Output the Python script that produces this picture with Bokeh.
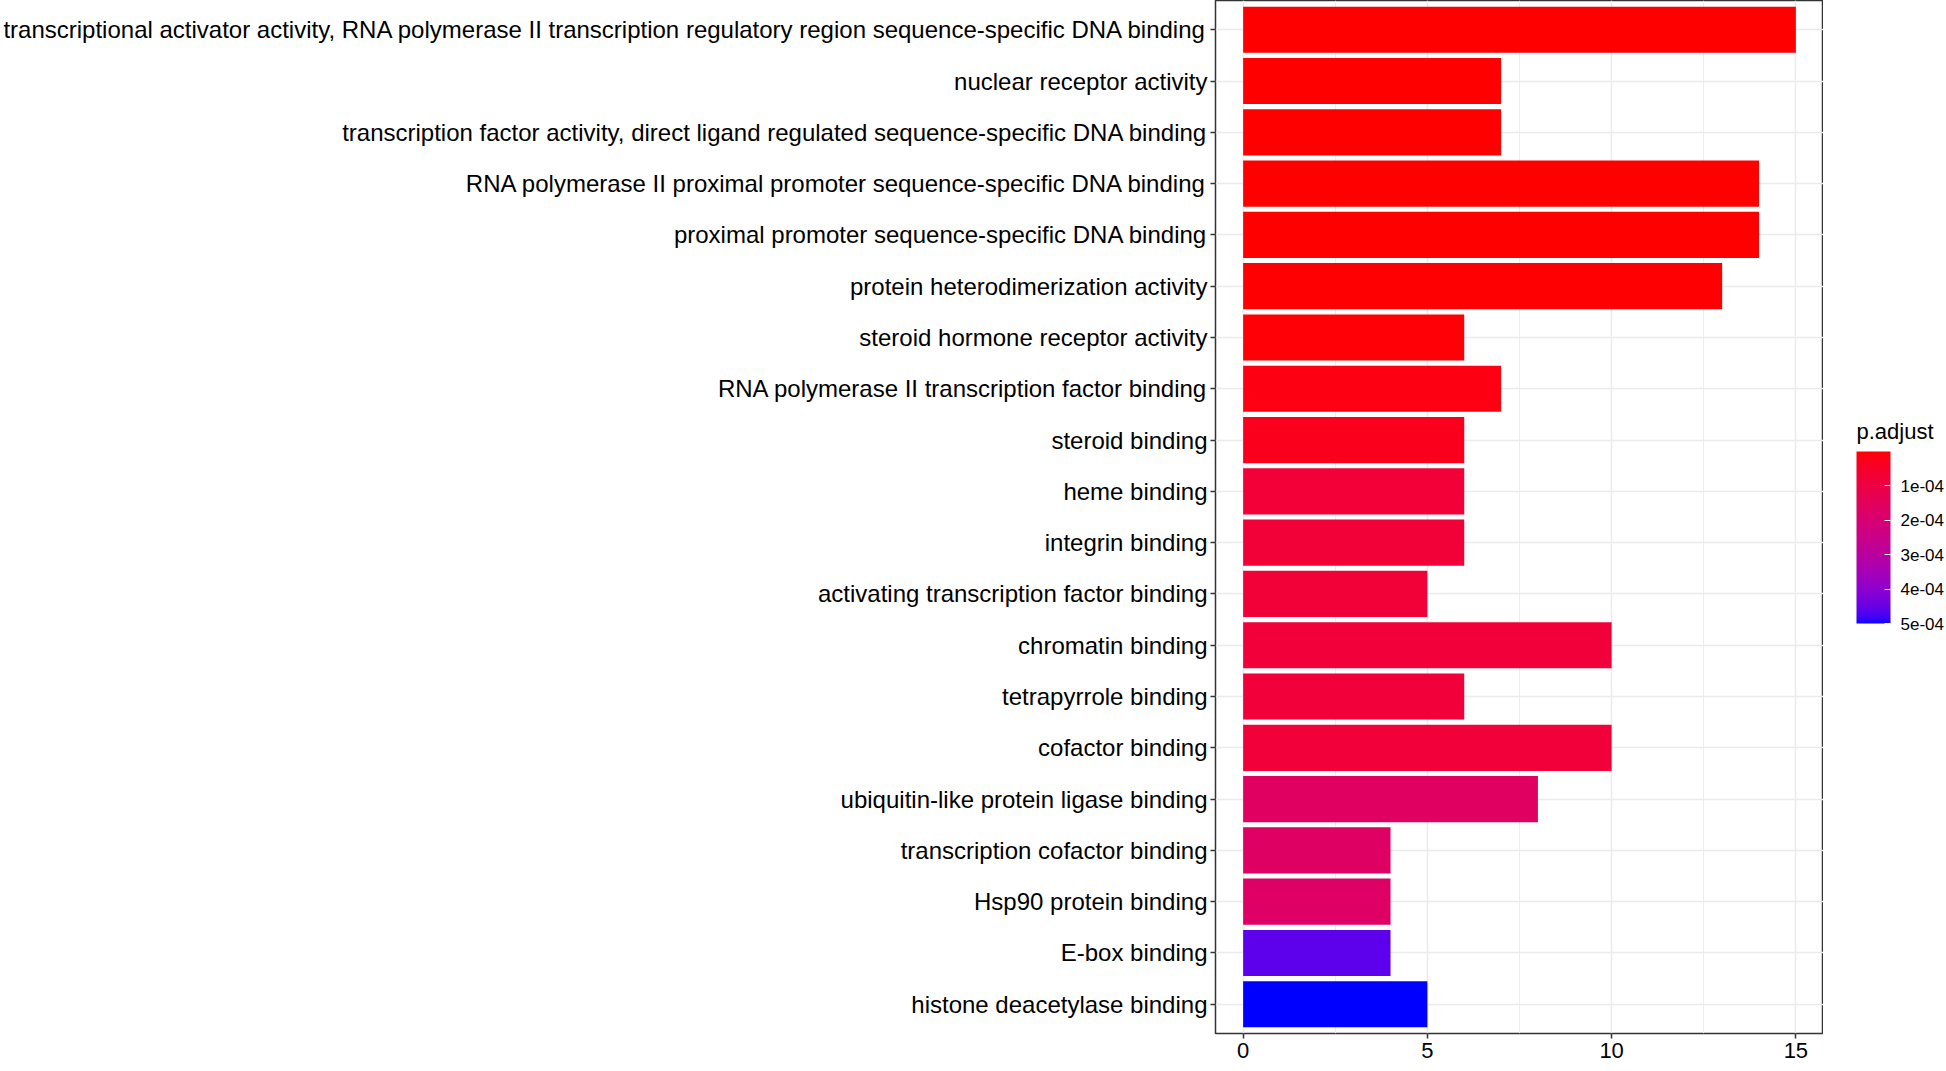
import math
from bokeh.plotting import figure
from bokeh.layouts import row
from bokeh.models import (ColumnDataSource, LinearColorMapper, ColorBar, FixedTicker,
                          CustomJSTickFormatter, FactorRange, Range1d, Label, AllLabels)
from bokeh.embed import file_html
from bokeh.resources import INLINE

# ---------------- data (top to bottom as in the chart) ----------------
categories = [
    "transcriptional activator activity, RNA polymerase II transcription regulatory region sequence-specific DNA binding",
    "nuclear receptor activity",
    "transcription factor activity, direct ligand regulated sequence-specific DNA binding",
    "RNA polymerase II proximal promoter sequence-specific DNA binding",
    "proximal promoter sequence-specific DNA binding",
    "protein heterodimerization activity",
    "steroid hormone receptor activity",
    "RNA polymerase II transcription factor binding",
    "steroid binding",
    "heme binding",
    "integrin binding",
    "activating transcription factor binding",
    "chromatin binding",
    "tetrapyrrole binding",
    "cofactor binding",
    "ubiquitin-like protein ligase binding",
    "transcription cofactor binding",
    "Hsp90 protein binding",
    "E-box binding",
    "histone deacetylase binding",
]
counts = [15, 7, 7, 14, 14, 13, 6, 7, 6, 6, 6, 5, 10, 6, 10, 8, 4, 4, 4, 5]
p_adjust = [2e-8, 3e-7, 5e-7, 1e-6, 1e-6, 3e-6, 5e-6, 1.5e-5, 3.0e-5,
            7.6e-5, 7.7e-5, 7.8e-5, 7.9e-5, 8.0e-5, 8.1e-5,
            1.65e-4, 1.68e-4, 1.70e-4, 4.6e-4, 5.0e-4]
x_ticks = [0, 5, 10, 15]
x_minor = [2.5, 7.5, 12.5]
legend_title = "p.adjust"
legend_ticks = [1e-4, 2e-4, 3e-4, 4e-4, 5e-4]
p_low, p_high = 0.0, 5.0e-4

# ---------------- Lab gradient palette (red -> blue) ----------------
def srgb_to_lab(r, g, b):
    def lin(c):
        c = c / 255.0
        return c / 12.92 if c <= 0.04045 else ((c + 0.055) / 1.055) ** 2.4
    R, G, B = lin(r), lin(g), lin(b)
    X = 0.4124 * R + 0.3576 * G + 0.1805 * B
    Y = 0.2126 * R + 0.7152 * G + 0.0722 * B
    Z = 0.0193 * R + 0.1192 * G + 0.9505 * B
    Xn, Yn, Zn = 0.95047, 1.0, 1.08883
    def f(t):
        return t ** (1 / 3) if t > 0.008856 else 7.787 * t + 16 / 116
    fx, fy, fz = f(X / Xn), f(Y / Yn), f(Z / Zn)
    return 116 * fy - 16, 500 * (fx - fy), 200 * (fy - fz)

def lab_to_hex(L, a, b):
    fy = (L + 16) / 116
    fx = fy + a / 500
    fz = fy - b / 200
    def finv(t):
        return t ** 3 if t ** 3 > 0.008856 else (t - 16 / 116) / 7.787
    X, Y, Z = 0.95047 * finv(fx), finv(fy), 1.08883 * finv(fz)
    R = 3.2406 * X - 1.5372 * Y - 0.4986 * Z
    G = -0.9689 * X + 1.8758 * Y + 0.0415 * Z
    B = 0.0557 * X - 0.2040 * Y + 1.0570 * Z
    def gam(c):
        c = min(max(c, 0.0), 1.0)
        c = 12.92 * c if c <= 0.0031308 else 1.055 * c ** (1 / 2.4) - 0.055
        return int(round(min(max(c, 0.0), 1.0) * 255))
    return "#%02x%02x%02x" % (gam(R), gam(G), gam(B))

lab_lo = srgb_to_lab(255, 0, 0)
lab_hi = srgb_to_lab(0, 0, 255)
N = 256
palette = [lab_to_hex(*[lo + (hi - lo) * i / (N - 1) for lo, hi in zip(lab_lo, lab_hi)])
           for i in range(N)]

FONT = "Liberation Sans"
FRAME_H = 1033

source = ColumnDataSource(dict(cat=categories, count=counts, padj=p_adjust))
mapper = LinearColorMapper(palette=palette, low=p_low, high=p_high)

p = figure(
    y_range=FactorRange(factors=categories[::-1], range_padding=0.07,
                        range_padding_units="absolute"),
    x_range=Range1d(-0.75, 15.75),
    frame_width=608, frame_height=FRAME_H,
    min_border_left=1214, min_border_right=0, min_border_top=0, min_border_bottom=36,
    output_backend="svg", toolbar_location=None,
)

p.hbar(y="cat", left=0, right="count", height=0.9, source=source,
       fill_color={"field": "padj", "transform": mapper}, line_color=None)

# frame / background
p.background_fill_color = "white"
p.border_fill_color = "white"
p.outline_line_color = "#333333"
p.outline_line_width = 1.5
p.outline_line_alpha = 1.0

# grids
p.xgrid.ticker = FixedTicker(ticks=x_ticks, minor_ticks=x_minor)
p.xgrid.grid_line_color = "#EBEBEB"
p.xgrid.grid_line_width = 1.6
p.xgrid.minor_grid_line_color = "#EBEBEB"
p.xgrid.minor_grid_line_width = 0.9
p.ygrid.grid_line_color = "#EBEBEB"
p.ygrid.grid_line_width = 1.6

# axes
p.xaxis.ticker = FixedTicker(ticks=x_ticks)
for ax in (p.xaxis[0], p.yaxis[0]):
    ax.axis_line_color = None
    ax.major_tick_line_color = "#333333"
    ax.major_tick_line_width = 1.5
    ax.major_tick_out = 5
    ax.major_tick_in = 0
    ax.minor_tick_line_color = None
    ax.major_label_text_font = FONT
    ax.major_label_text_color = "black"
p.xaxis.major_label_text_font_size = "22px"
p.yaxis.major_label_text_font_size = "24px"
p.xaxis.major_label_standoff = 4
p.yaxis.major_label_standoff = 3

# ---------------- legend panel (colour bar, low values at top) ----------------
LEG_W = 1946 - 1214 - 608
BAR_LEFT = 1855 - 1822   # offset of colour bar from the panel's left edge
BAR_BOTTOM = 623         # pixel row of the colour bar bottom
TITLE_BASE = 431         # pixel row of the legend title baseline

q = figure(
    x_range=Range1d(0, LEG_W), y_range=Range1d(FRAME_H, 0),
    frame_width=LEG_W, frame_height=FRAME_H,
    min_border_left=0, min_border_right=0, min_border_top=0, min_border_bottom=36,
    output_backend="svg", toolbar_location=None,
)
q.axis.visible = False
q.grid.visible = False
q.outline_line_color = None
q.background_fill_color = "white"
q.border_fill_color = "white"

cb_mapper = LinearColorMapper(palette=palette[::-1], low=-p_high, high=-p_low)
fmt = CustomJSTickFormatter(code=r"""
const v = Math.abs(tick);
const s = v.toExponential(0);
return s.replace(/e([+-])(\d)$/, "e$10$2");
""")
cb = ColorBar(
    color_mapper=cb_mapper,
    ticker=FixedTicker(ticks=[-t for t in legend_ticks]),
    formatter=fmt,
    major_label_policy=AllLabels(),
    orientation="vertical",
    width=34, height=172,
    title=None,
    major_label_text_font=FONT, major_label_text_font_size="17px",
    major_label_text_color="black", label_standoff=10,
    major_tick_in=6, major_tick_out=0, major_tick_line_color="white",
    major_tick_line_width=1, minor_tick_line_color=None,
    bar_line_color=None, border_line_color=None, background_fill_color=None,
    padding=0, margin=0, location=(BAR_LEFT, FRAME_H - BAR_BOTTOM),
)
q.add_layout(cb)

title = Label(x=BAR_LEFT, y=TITLE_BASE, x_units="data", y_units="data",
              text=legend_title, text_font=FONT, text_font_size="22px",
              text_color="black", text_baseline="alphabetic", text_align="left")
q.add_layout(title)

layout = row(p, q, spacing=0)
open("out.html", "w").write(file_html(layout, INLINE))
